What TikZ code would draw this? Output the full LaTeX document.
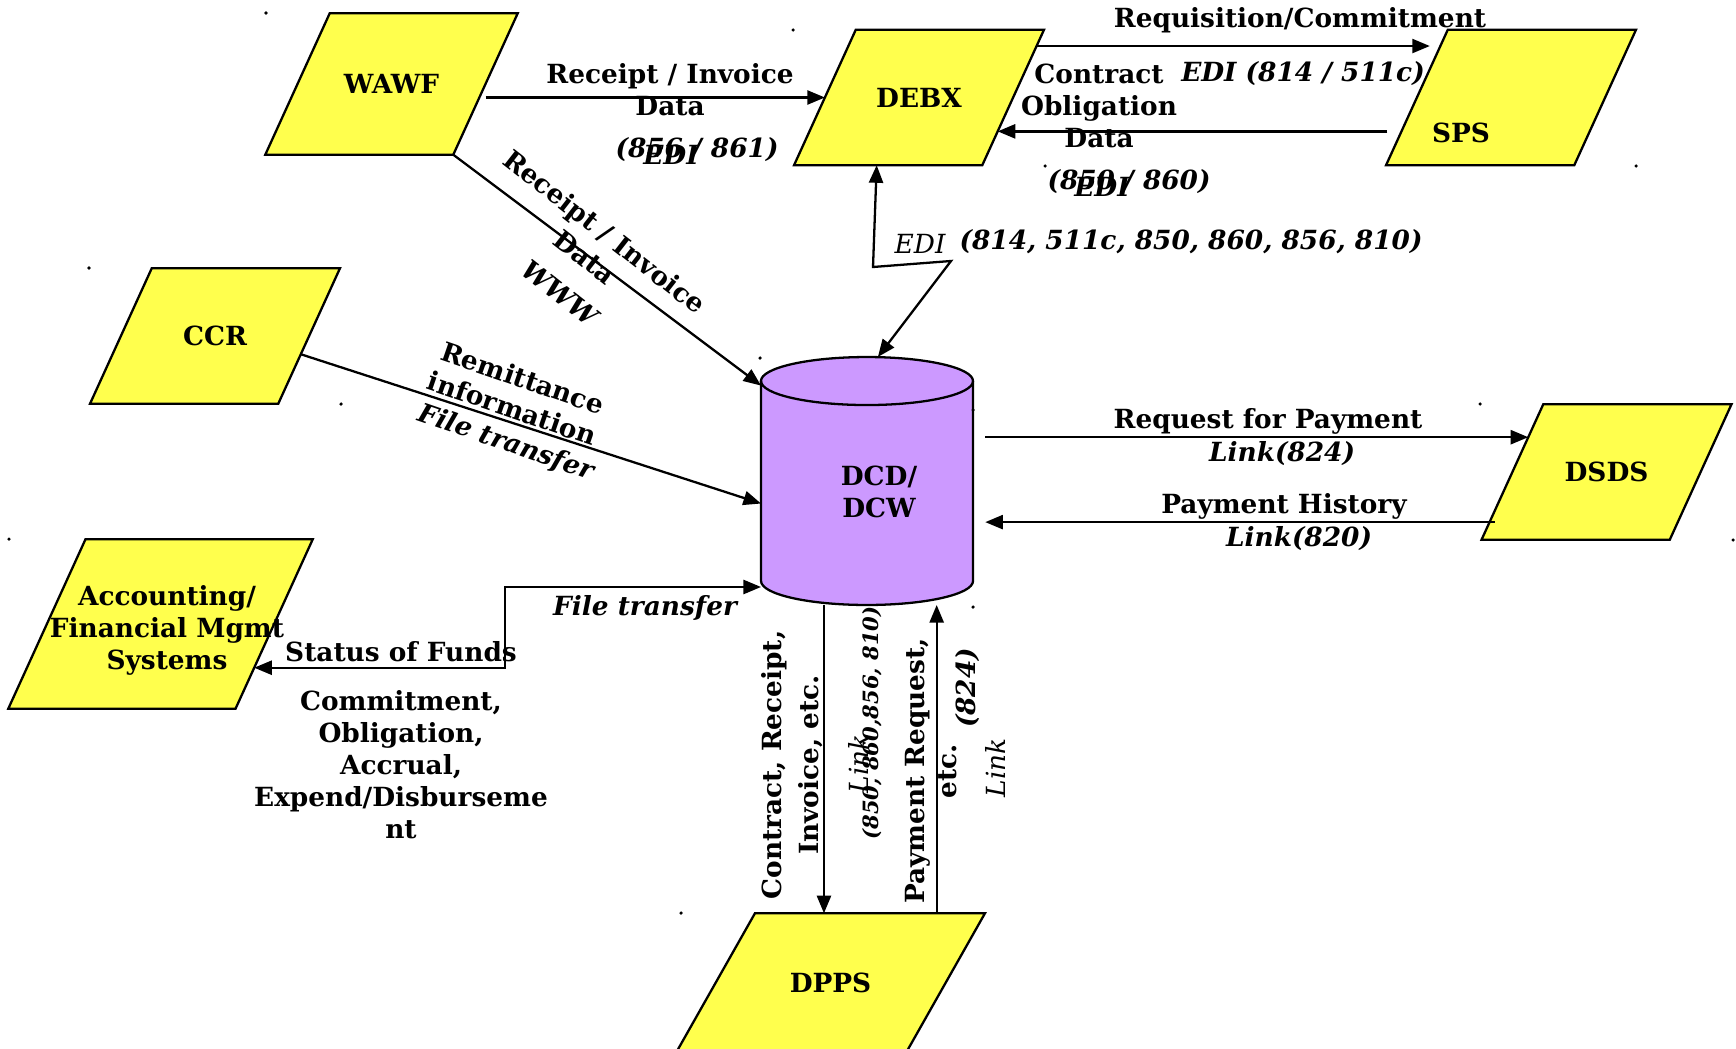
\documentclass[tikz,border=0pt]{standalone}
\usepackage{fontspec}
\setmainfont{DejaVu Serif}
\usetikzlibrary{shapes.geometric,arrows.meta,calc}
\definecolor{sysyellow}{RGB}{255,255,77}
\definecolor{dbviolet}{RGB}{204,153,255}
\newcommand{\dsize}{\fontsize{15}{18.2}\selectfont}

\begin{document}
\begin{tikzpicture}[x=0.02cm,y=-0.02cm,>={Triangle[length=10pt,width=8pt]},
  sys/.style={trapezium,trapezium left angle=65.5,trapezium right angle=114.5,
    trapezium stretches body,draw,line width=1.3pt,fill=sysyellow,
    minimum width=5cm,text height=11pt,text depth=0pt,inner xsep=0pt,inner ysep=33.05pt,
    outer sep=0pt,font=\dsize\bfseries,align=center},
  lbl/.style={font=\dsize\bfseries,align=center,inner sep=0pt},
  ilbl/.style={font=\dsize\bfseries\itshape,align=center,inner sep=0pt},
  rlbl/.style={font=\dsize\itshape,inner sep=0pt},
  link/.style={line width=1.3pt}]
\useasboundingbox (0,0) rectangle (1736,1048);

% systems
\node[sys,minimum width=5.05cm,inner ysep=34.75pt] (wawf) at (391.5,84) {WAWF};
\node[sys] (debx) at (919,97.5) {DEBX};
\node[sys] (sps) at (1511,97.5) {};
\node[lbl] (sps_txt) at (1461,133) {SPS};
\node[sys] (ccr) at (215,336) {CCR};
\node[sys] (dsds) at (1606.5,472) {DSDS};
\node[sys,minimum width=6.09cm,text height=0pt,inner ysep=48.2pt] (acct) at (160.5,624) {};
\node[lbl] (acct_txt) at (167,630) {Accounting/\\Financial Mgmt\\Systems};
\node[sys,trapezium left angle=60.5,trapezium right angle=119.5,minimum width=6.18cm,inner ysep=34.2pt] (dpps) at (830.5,983) {DPPS};

% data store
\node[minimum width=4.24cm,minimum height=4.96cm,inner sep=0pt,outer sep=0pt] (dcd) at (867,481) {};
\draw[line width=1.3pt,fill=dbviolet] ($(dcd.north west)+(0,24)$) -- ($(dcd.south west)+(0,-24)$)
  arc[start angle=180,end angle=0,x radius=106,y radius=24] -- ($(dcd.north east)+(0,24)$)
  arc[start angle=0,end angle=-180,x radius=106,y radius=24] -- cycle;
\draw[line width=1.3pt] ($(dcd.north west)+(0,24)$) arc[start angle=180,end angle=0,x radius=106,y radius=24];
\node[lbl] (dcd_txt) at (879,492) {DCD/\\DCW};

% WAWF
\draw[link,->] (wawf.east |- debx.west) -- (debx.west);
\node[lbl] (rcpt_lbl) at (670,90) {Receipt / Invoice\\Data};
\node[ilbl] (rcpt_codes) at (697,150) {(856 / 861)};
\node[ilbl] (rcpt_edi) at (671,155) {EDI};

\draw[link,->] (wawf.bottom right corner) -- (dcd.138);
\node[lbl,rotate=-38] (www_lbl) at (595,244) {Receipt / Invoice\\Data};
\node[ilbl,rotate=-38] (www_via) at (560,293) {WWW};

% CCR
\draw[link,->] (ccr.-12) -- (dcd.192.5);
\node[lbl,rotate=-19] (remit_lbl) at (517.5,393) {Remittance\\information};
\node[ilbl,rotate=-19] (remit_via) at (506,443) {File transfer};

% accounting
\coordinate (funds_bend) at (505,628);
\draw[link,<->] (dcd.225) -| (funds_bend) |- (acct.-25.6);
\node[ilbl] (funds_via) at (645,608) {File transfer};
\node[lbl] (funds_lbl) at (401,652) {Status of Funds};
\node[lbl] (funds_list) at (401,764.5) {Commitment,\\Obligation,\\Accrual,\\Expend/Disburseme\\nt};

% SPS
\draw[link,->,shorten >=6pt] ($(debx.top right corner)!.12!(debx.bottom right corner)$) -- ($(sps.top left corner)!.12!(sps.bottom left corner)$);
\draw[link,->,shorten <=8pt] ($(sps.top left corner)!.75!(sps.bottom left corner)$) -- ($(debx.top right corner)!.75!(debx.bottom right corner)$);
\node[lbl] (req_lbl) at (1300,20) {Requisition/Commitment};
\node[ilbl] (req_codes) at (1303,74) {EDI (814 / 511c)};
\node[lbl] (oblig_lbl) at (1099,106) {Contract\\Obligation\\Data};
\node[ilbl] (oblig_codes) at (1129,182) {(850 / 860)};
\node[ilbl] (oblig_edi) at (1102,187) {EDI};

% DEBX - DCD
\coordinate (edi_a) at (873,267);
\coordinate (edi_b) at (951,261);
\draw[link,<->] (debx.-122) -- (edi_a) -- (edi_b) -- (dcd.85);
\node[rlbl] (dcd_edi) at (920,244) {EDI};
\node[ilbl] (dcd_codes) at (1191,242) {(814, 511c, 850, 860, 856, 810)};

% DSDS
\coordinate (rfp_in) at ($(dsds.top left corner)!.243!(dsds.bottom left corner)$);
\draw[link,->,shorten <=7pt] (rfp_in -| dcd.east) -- (rfp_in);
\coordinate (hist_out) at ($(dsds.top left corner)!.87!(dsds.bottom left corner)$);
\draw[link,->,shorten >=7pt,shorten <=-3pt] (hist_out) -- (hist_out -| dcd.east);
\node[lbl] (rfp_lbl) at (1268,421) {Request for Payment};
\node[ilbl] (rfp_codes) at (1282,454) {Link(824)};
\node[lbl] (hist_lbl) at (1284,506) {Payment History};
\node[ilbl] (hist_codes) at (1299,539) {Link(820)};

% DPPS
\coordinate (dpps_in) at ($(dpps.top left corner)!.3!(dpps.top right corner)$);
\draw[link,->] (dpps_in |- dcd.south) -- (dpps_in);
\coordinate (dpps_out) at ($(dpps.top left corner)!.79!(dpps.top right corner)$);
\draw[link,->] (dpps_out) -- (dpps_out |- dcd.south);
\node[lbl,rotate=90] (dpps_in_lbl) at (792,765) {Contract,  Receipt,\\[3pt]Invoice, etc.};
\node[ilbl,rotate=90,font=\fontsize{12}{14}\selectfont\bfseries\itshape] (dpps_in_codes) at (872,723) {(850, 860,856, 810)};
\node[rlbl,rotate=90] (dpps_in_link) at (858,764) {Link};
\node[lbl,rotate=90] (dpps_out_lbl) at (931.5,771) {Payment Request,\\etc.};
\node[ilbl,rotate=90] (dpps_out_codes) at (968,688) {(824)};
\node[rlbl,rotate=90] (dpps_out_link) at (995,768) {Link};

% stray marks
\foreach \p in {(266,13),(793,30),(89,268),(341,404),(9,539),(1045,166),(1636,166),(1480,404),(1733,540),(681,913),(760,358),(973,607),(973,410)}
  \fill \p circle (1pt);
\end{tikzpicture}
\end{document}
